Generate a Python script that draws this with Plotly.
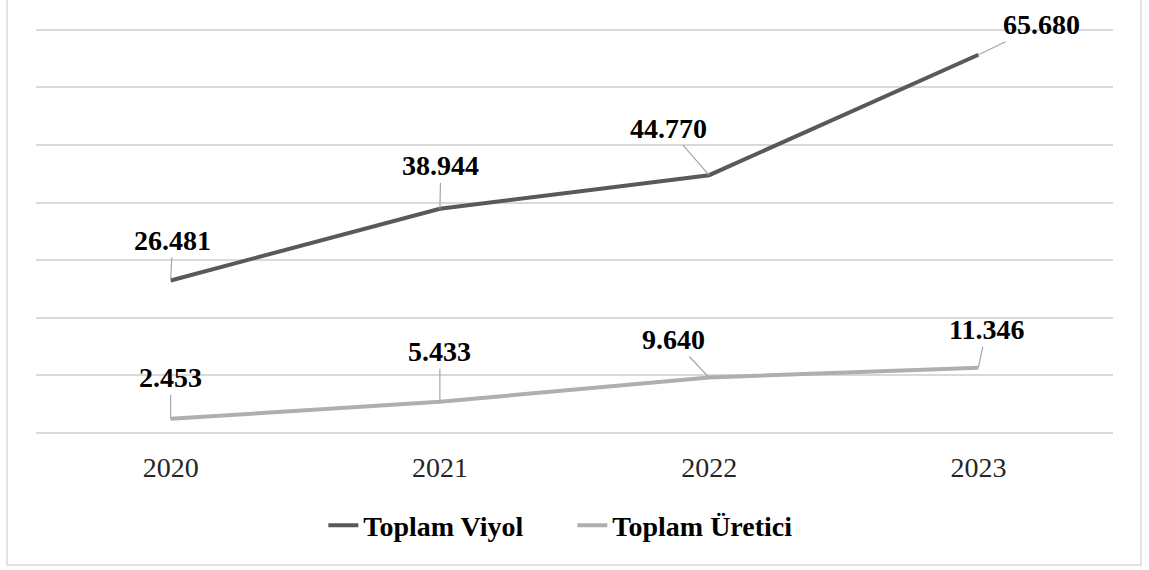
import plotly.graph_objects as go

years = ["2020", "2021", "2022", "2023"]
viyol = [26481, 38944, 44770, 65680]
uretici = [2453, 5433, 9640, 11346]
viyol_labels = ["26.481", "38.944", "44.770", "65.680"]
uretici_labels = ["2.453", "5.433", "9.640", "11.346"]

# label offsets (pixels) for the callout leaders
viyol_offsets = [(2, -40), (1, -43), (-41, -47), (63, -30)]
uretici_offsets = [(0, -41), (0, -50), (-36, -38), (8, -38)]

SERIF = "Liberation Serif, Times New Roman, serif"

fig = go.Figure()
fig.add_trace(go.Scatter(
    x=years, y=viyol, name="Toplam Viyol", mode="lines",
    line=dict(color="#595959", width=4),
))
fig.add_trace(go.Scatter(
    x=years, y=uretici, name="Toplam Üretici", mode="lines",
    line=dict(color="#afafaf", width=4),
))

annotations = []
for vals, labels, offs in [(viyol, viyol_labels, viyol_offsets),
                           (uretici, uretici_labels, uretici_offsets)]:
    # category axis: position annotations by category index
    for i, (v, lab, (ax, ay)) in enumerate(zip(vals, labels, offs)):
        annotations.append(dict(
            x=i, y=v, xref="x", yref="y", text="<b>%s</b>" % lab,
            showarrow=True, arrowhead=0, arrowwidth=1.2, arrowcolor="#a6a6a6",
            ax=ax, ay=ay, standoff=0,
            font=dict(family=SERIF, size=28, color="#000000"),
        ))

fig.update_layout(
    width=1149, height=570,
    margin=dict(l=36, r=36, t=27, b=137),
    paper_bgcolor="white", plot_bgcolor="white",
    showlegend=True,
    legend=dict(
        orientation="h", x=0.498, xanchor="center", y=-0.228, yanchor="middle",
        font=dict(family=SERIF, size=28, color="#000000", weight="bold"),
        entrywidth=204, entrywidthmode="pixels", tracegroupgap=0,
    ),
    annotations=annotations,
    xaxis=dict(
        type="category", range=[-0.5, 3.5], showgrid=False,
        showline=False, zeroline=False, ticks="",
        tickfont=dict(family=SERIF, size=28, color="#262626"),
        ticklabelstandoff=15,
    ),
    yaxis=dict(
        # a little headroom so the 70.000 gridline is not clipped at the edge
        range=[0, 70500], tick0=0, dtick=10000, showticklabels=False,
        showgrid=True, gridcolor="#d9d9d9", gridwidth=1.5,
        zeroline=True, zerolinecolor="#d9d9d9", zerolinewidth=1.5,
        showline=False,
    ),
    shapes=[dict(
        type="rect", xref="paper", yref="paper",
        x0=-0.0269, x1=1.026, y0=-0.325, y1=1.07,
        line=dict(color="#d9d9d9", width=1.5), fillcolor="rgba(0,0,0,0)",
        layer="below",
    )],
)

fig.write_html(
    "out.html",
    config={"displayModeBar": False},
    post_script="document.body.style.margin = '0';",
)
